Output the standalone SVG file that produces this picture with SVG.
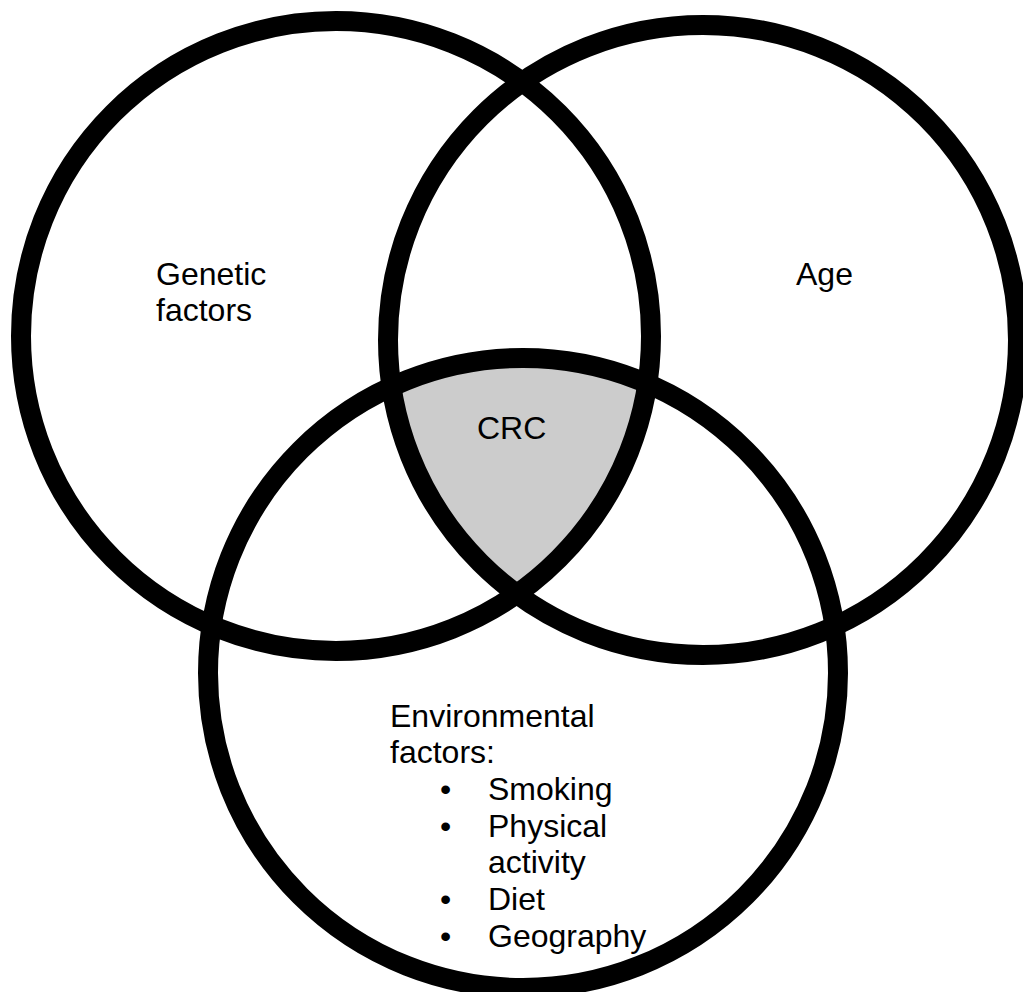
<svg xmlns="http://www.w3.org/2000/svg" width="1023" height="992" viewBox="0 0 1023 992">
<style>
.ring{fill:none;stroke:#000;stroke-width:20}
.lbl{font-family:"Liberation Sans",Arial,sans-serif;font-size:32px;fill:#000}
</style>
<defs>
<clipPath id="clip1"><circle cx="336" cy="336" r="315"/></clipPath>
<clipPath id="clip2"><circle cx="703" cy="340" r="315"/></clipPath>
</defs>
<rect width="1023" height="992" fill="#fff"/>
<g id="crc">
<g clip-path="url(#clip1)"><g clip-path="url(#clip2)"><circle cx="523" cy="673" r="315" fill="#cccccc"/></g></g>
<text class="lbl" x="477" y="439">CRC</text>
</g>
<g id="genetic">
<circle class="ring" cx="336" cy="336" r="315"/>
<text class="lbl" x="156" y="285">Genetic</text>
<text class="lbl" x="156" y="321">factors</text>
</g>
<g id="age">
<circle class="ring" cx="703" cy="340" r="315"/>
<text class="lbl" x="796" y="285">Age</text>
</g>
<g id="environmental">
<circle class="ring" cx="523" cy="673" r="315"/>
<text class="lbl" x="390" y="727">Environmental</text>
<text class="lbl" x="390" y="763">factors:</text>
<text class="lbl" x="440" y="800">•</text><text class="lbl" x="488" y="800">Smoking</text>
<text class="lbl" x="440" y="837">•</text><text class="lbl" x="488" y="837">Physical</text>
<text class="lbl" x="488" y="873">activity</text>
<text class="lbl" x="440" y="910">•</text><text class="lbl" x="488" y="910">Diet</text>
<text class="lbl" x="440" y="947">•</text><text class="lbl" x="488" y="947">Geography</text>
</g>
</svg>
